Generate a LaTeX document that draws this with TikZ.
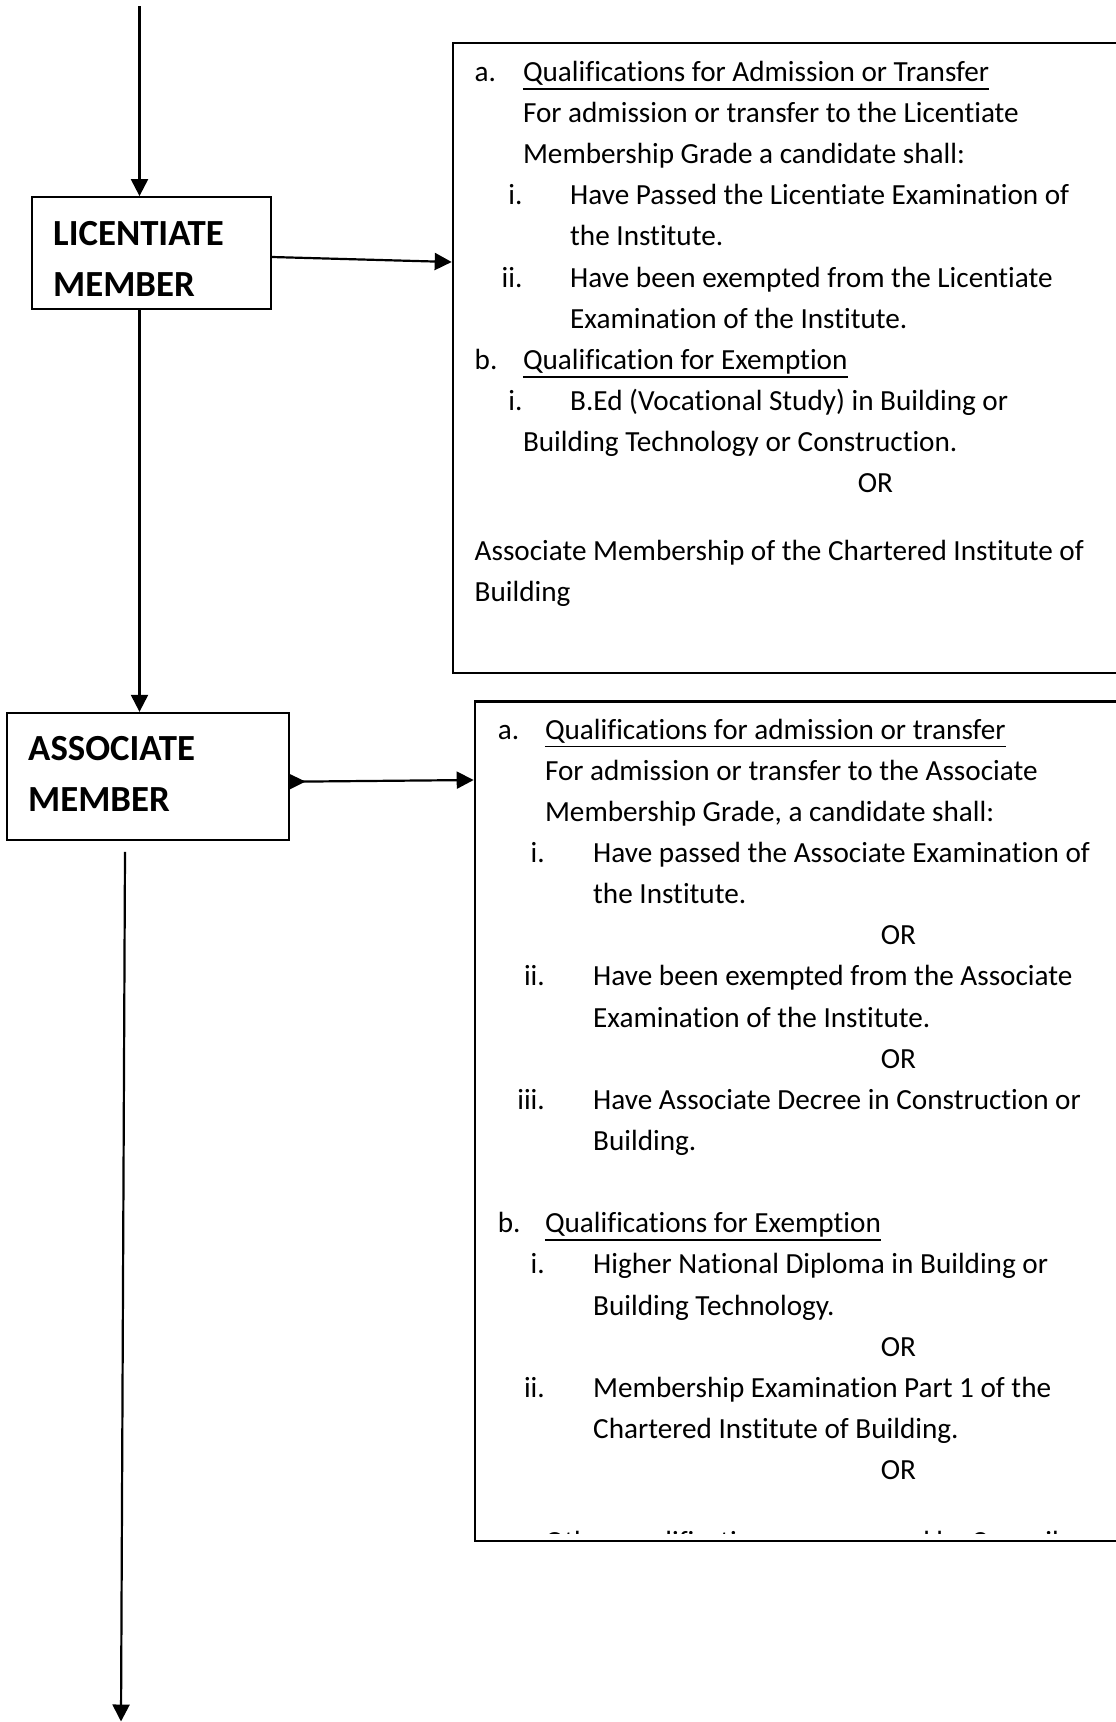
\documentclass[tikz,border=0pt]{standalone}
\usepackage{fontspec}
\setmainfont{Carlito}[Ligatures={NoCommon}]
\usetikzlibrary{arrows.meta,calc}
\begin{document}
\begin{tikzpicture}[x=1pt,y=-1pt,
  body/.style={anchor=base west,inner sep=0pt,font=\fontsize{29.2}{35}\selectfont},
  num/.style={anchor=base east,inner sep=0pt,font=\fontsize{29.2}{35}\selectfont},
  orlab/.style={anchor=base,inner sep=0pt,font=\fontsize{29.2}{35}\selectfont},
  title/.style={anchor=base west,inner sep=0pt,font=\fontsize{36.8}{44}\selectfont\bfseries},
  member/.style={draw,line width=1.8pt,inner sep=0pt},
  panel/.style={draw,line width=2.6pt,inner sep=0pt},
  conn/.style={line width=2.2pt,-{Triangle[length=17pt,width=17pt]}},
  uline/.style={line width=1.8pt},
]
\clip (0,0) rectangle (1116,1722);
\fill[white] (0,0) rectangle (1116,1722);

% member boxes
\node[member,minimum width=239pt,minimum height=112pt] (lic) at (151.5,253) {};
\node[title] (licA) at (53,245) {LICENTIATE};
\node[title] (licB) at (53,296) {MEMBER};

\node[member,minimum width=282pt,minimum height=127.3pt] (ass) at (147.7,776.4) {};
\node[title] (assA) at (28,760) {ASSOCIATE};
\node[title] (assB) at (28,811.7) {MEMBER};

% panels
\node[panel,minimum width=687pt,minimum height=630pt] (p1) at (796.5,358) {};
\node[panel,minimum width=665pt,minimum height=839.3pt] (p2) at (807.5,1121.35) {};

% connectors
\coordinate (top) at (139.5,6);
\coordinate (bot) at (121,1721.5);
\draw[conn] (top) -- (top |- lic.north);
\draw[conn] (lic.south -| top) -- (ass.north -| top);
\draw[conn] ($(lic.east)+(0,4)$) -- ($(p1.west)+(0,-96)$);
\draw[line width=2.2pt,{Triangle[reversed,length=16pt,width=15pt]}-{Triangle[length=17pt,width=17pt]}]
  ($(ass.east)+(0,5.3)$) -- ($(p2.west)+(0,-341.35)$);
\draw[conn] ($(ass.south)+(-22.7,11)$) -- (bot);

% panel 1 text
\node[body] (p1a) at (474.5,81.5) {a.};
\node[body] (p1ah) at (522.8,81.5) {Qualifications for Admission or Transfer};
\draw[uline] ($(p1ah.base west)+(0,7.5)$) -- ($(p1ah.base east)+(0,7.5)$);
\node[body] (p1l1) at (522.8,122.6) {For admission or transfer to the Licentiate};
\node[body] (p1l2) at (522.8,163.7) {Membership Grade a candidate shall:};
\node[num] (p1n1) at (522.7,204.8) {i.};
\node[body] (p1l3) at (570,204.8) {Have Passed the Licentiate Examination of};
\node[body] (p1l4) at (570,245.9) {the Institute.};
\node[num] (p1n2) at (522.7,287) {ii.};
\node[body] (p1l5) at (570,287) {Have been exempted from the Licentiate};
\node[body] (p1l6) at (570,328.1) {Examination of the Institute.};
\node[body] (p1b) at (474.5,369.2) {b.};
\node[body] (p1bh) at (522.8,369.2) {Qualification for Exemption};
\draw[uline] ($(p1bh.base west)+(0,7.5)$) -- ($(p1bh.base east)+(0,7.5)$);
\node[num] (p1n3) at (522.7,410.3) {i.};
\node[body] (p1l7) at (570,410.3) {B.Ed (Vocational Study) in Building or};
\node[body] (p1l8) at (522.8,451.4) {Building Technology or Construction.};
\node[orlab] (p1or) at (875.4,492.5) {OR};
\node[body] (p1l9) at (474.5,560) {Associate Membership of the Chartered Institute of};
\node[body] (p1l10) at (474.5,601.5) {Building};

% panel 2 text
\node[body] (p2a) at (497.6,739) {a.};
\node[body] (p2ah) at (544.8,739) {Qualifications for admission or transfer};
\draw[uline] ($(p2ah.base west)+(0,7.5)$) -- ($(p2ah.base east)+(0,7.5)$);
\node[body] (p2l1) at (544.8,780.15) {For admission or transfer to the Associate};
\node[body] (p2l2) at (544.8,821.3) {Membership Grade, a candidate shall:};
\node[num] (p2n1) at (545,862.45) {i.};
\node[body] (p2l3) at (593,862.45) {Have passed the Associate Examination of};
\node[body] (p2l4) at (593,903.6) {the Institute.};
\node[orlab] (p2or1) at (898.5,944.75) {OR};
\node[num] (p2n2) at (545,985.9) {ii.};
\node[body] (p2l5) at (593,985.9) {Have been exempted from the Associate};
\node[body] (p2l6) at (593,1027.05) {Examination of the Institute.};
\node[orlab] (p2or2) at (898.5,1068.2) {OR};
\node[num] (p2n3) at (545,1109.35) {iii.};
\node[body] (p2l7) at (593,1109.35) {Have Associate Decree in Construction or};
\node[body] (p2l8) at (593,1150.5) {Building.};
\node[body] (p2b) at (497.6,1232.8) {b.};
\node[body] (p2bh) at (544.8,1232.8) {Qualifications for Exemption};
\draw[uline] ($(p2bh.base west)+(0,7.5)$) -- ($(p2bh.base east)+(0,7.5)$);
\node[num] (p2n4) at (545,1273.95) {i.};
\node[body] (p2l9) at (593,1273.95) {Higher National Diploma in Building or};
\node[body] (p2l10) at (593,1315.1) {Building Technology.};
\node[orlab] (p2or3) at (898.5,1356.25) {OR};
\node[num] (p2n5) at (545,1397.4) {ii.};
\node[body] (p2l11) at (593,1397.4) {Membership Examination Part 1 of the};
\node[body] (p2l12) at (593,1438.55) {Chartered Institute of Building.};
\node[orlab] (p2or4) at (898.5,1479.7) {OR};
\begin{scope}
  \clip (480,1500) rectangle (1116,1533);
  \node[body] (p2c) at (497.6,1551) {c.};
  \node[body] (p2ch) at (544.8,1551) {Other qualifications as approved by Council};
\end{scope}
\end{tikzpicture}
\end{document}
